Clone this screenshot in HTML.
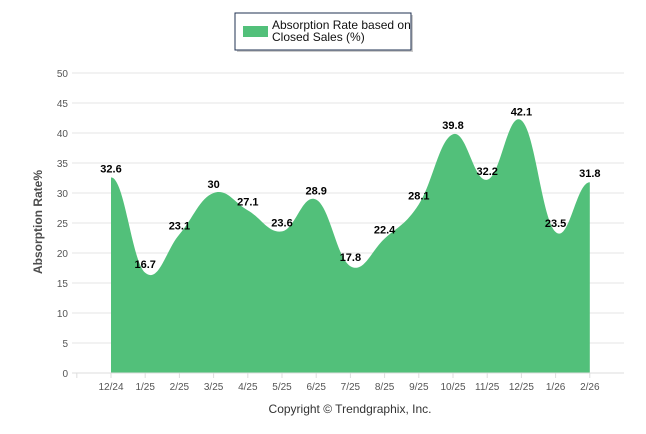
<!DOCTYPE html>
<html><head><meta charset="utf-8"><style>
html,body{margin:0;padding:0;background:#fff;width:646px;height:434px;overflow:hidden}
svg text{font-family:"Liberation Sans",sans-serif}
</style></head><body>
<svg id="chart" width="646" height="434">
<g id="grid"></g>
<g id="area"></g>
<g id="labels"></g>
<g id="xaxis"></g>
<g id="yaxis"></g>
<text transform="translate(42,222) rotate(-90)" text-anchor="middle" font-size="12" font-weight="bold" fill="#4d4d4d">Absorption Rate%</text>
<text x="350" y="413" text-anchor="middle" font-size="12" fill="#333">Copyright © Trendgraphix, Inc.</text>
<g>
<rect x="237" y="15" width="176" height="37" fill="#999" opacity="0.5"/>
<rect x="235" y="13" width="176" height="37" fill="#fff" stroke="#1f3050" stroke-width="1"/>
<rect x="243" y="26" width="25" height="11" fill="#52c07a"/>
<text x="272" y="29" font-size="12" fill="#111">Absorption Rate based on</text>
<text x="272" y="41" font-size="12" fill="#111">Closed Sales (%)</text>
</g>
</svg>
<script>
const categories=["12/24","1/25","2/25","3/25","4/25","5/25","6/25","7/25","8/25","9/25","10/25","11/25","12/25","1/26","2/26"];
const values=[32.6,16.7,23.1,30,27.1,23.6,28.9,17.8,22.4,28.1,39.8,32.2,42.1,23.5,31.8];
const yTicks=[0,5,10,15,20,25,30,35,40,45,50];
const NS="http://www.w3.org/2000/svg";
const x0=111,step=34.2,yb=373,yt=73,ymax=50;
const xs=i=>x0+step*i, ys=v=>yb-(yb-yt)*v/ymax;
function mk(t,a,p){const e=document.createElementNS(NS,t);for(const k in a)e.setAttribute(k,a[k]);p.appendChild(e);return e;}
const grid=document.getElementById('grid'),ya=document.getElementById('yaxis'),xa=document.getElementById('xaxis');
yTicks.forEach(v=>{
 const l=mk('line',{x1:72,x2:624,y1:ys(v),y2:ys(v),stroke:'#e6e6e6'},grid);
 
 
 const t=mk('text',{x:68,y:ys(v)+4,'text-anchor':'end','font-size':'10',fill:'#555'},ya);t.textContent=v;
 
 
});
for(let i=0;i<=categories.length;i++){mk('line',{x1:xs(i)-step,x2:xs(i)-step,y1:yb,y2:yb+5,stroke:'#ddd'},xa);}
categories.forEach((c,i)=>{
 const t=mk('text',{x:xs(i),y:390,'text-anchor':'middle','font-size':'10',fill:'#555'},xa);t.textContent=c;
 
 
});
const pts=values.map((v,i)=>[xs(i),ys(v)]);
const k=0.2;
let d='M'+pts[0][0]+','+yb+' L'+pts[0][0]+','+pts[0][1];
for(let i=0;i<pts.length-1;i++){
 const p0=pts[i-1]||pts[i],p1=pts[i],p2=pts[i+1],p3=pts[i+2]||pts[i+1];
 const c1=[p1[0]+(p2[0]-p0[0])*k*(i===0?2:1)/1,p1[1]+(p2[1]-p0[1])*k];
 const c2=[p2[0]-(p3[0]-p1[0])*k*(i===pts.length-2?2:1),p2[1]-(p3[1]-p1[1])*k];
 if(i===0)c1[1]=p1[1];
 if(i===pts.length-2)c2[1]=p2[1];
 d+=' C'+c1[0]+','+c1[1]+' '+c2[0]+','+c2[1]+' '+p2[0]+','+p2[1];
}
d+=' L'+pts[pts.length-1][0]+','+yb+' Z';
const ar=mk('path',{d:d,fill:'#52c07a'},document.getElementById('area'));


mk('line',{x1:72,x2:624,y1:yb,y2:yb,stroke:'#ddd'},xa);
const lg=document.getElementById('labels');
values.forEach((v,i)=>{
 const t=mk('text',{x:xs(i),y:ys(v)-5,'text-anchor':'middle','font-size':'11','font-weight':'bold',fill:'#000'},lg);t.textContent=v;
 
 
});
</script>
</body></html>
